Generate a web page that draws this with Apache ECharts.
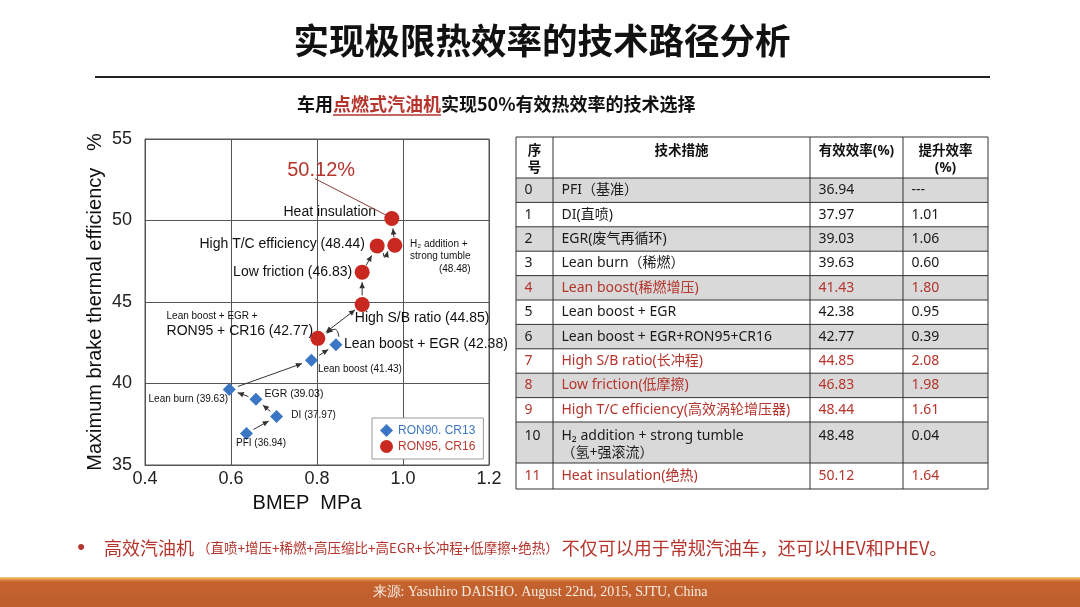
<!DOCTYPE html>
<html><head><meta charset="utf-8">
<script src="https://cdn.jsdelivr.net/npm/echarts/dist/echarts.min.js"></script>
<style>html,body{margin:0;padding:0;background:#fff}#c{width:1080px;height:607px}</style>
</head><body><div id="c"></div>
<script>
// ---------------- data ----------------
const pageTitle = '实现极限热效率的技术路径分析';
const subtitleParts = ['车用', '点燃式汽油机', '实现50%有效热效率的技术选择'];
const xTicks = [0.4, 0.6, 0.8, 1.0, 1.2];
const yTicks = [35, 40, 45, 50, 55];
const xAxisName = 'BMEP  MPa';
const yAxisName = 'Maximum brake thermal efficiency   %';
const seriesNames = ['RON90. CR13', 'RON95, CR16'];
const ron90X = [0.636, 0.706, 0.658, 0.596, 0.787, 0.844];
const ron90Y = [36.94, 37.97, 39.03, 39.63, 41.43, 42.38];
const ron90Labels = ['PFI (36.94)', 'DI (37.97)', 'EGR (39.03)', 'Lean burn (39.63)', 'Lean boost (41.43)', 'Lean boost + EGR (42.38)'];
const ron95X = [0.802, 0.905, 0.905, 0.940, 0.981, 0.974];
const ron95Y = [42.77, 44.85, 46.83, 48.44, 48.48, 50.12];
const ron95Labels = ['Lean boost + EGR +\nRON95 + CR16 (42.77)', 'High S/B ratio (44.85)', 'Low friction (46.83)', 'High T/C efficiency (48.44)', 'H₂ addition +\nstrong tumble\n(48.48)', 'Heat insulation'];
const peakLabel = '50.12%';

const tableHead = ['序\n号', '技术措施', '有效效率(%)', '提升效率\n(%)'];
const tableNo = ['0', '1', '2', '3', '4', '5', '6', '7', '8', '9', '10', '11'];
const tableTech = ['PFI（基准）', 'DI(直喷)', 'EGR(废气再循环)', 'Lean burn（稀燃）', 'Lean boost(稀燃增压)', 'Lean boost + EGR', 'Lean boost + EGR+RON95+CR16', 'High S/B ratio(长冲程)', 'Low friction(低摩擦)', 'High T/C efficiency(高效涡轮增压器)', 'H₂ addition + strong tumble\n（氢+强滚流）', 'Heat insulation(绝热)'];
const tableEff = ['36.94', '37.97', '39.03', '39.63', '41.43', '42.38', '42.77', '44.85', '46.83', '48.44', '48.48', '50.12'];
const tableGain = ['---', '1.01', '1.06', '0.60', '1.80', '0.95', '0.39', '2.08', '1.98', '1.61', '0.04', '1.64'];
const tableRedRows = [4, 7, 8, 9, 11];

const bulletParts = ['高效汽油机', '（直喷+增压+稀燃+高压缩比+高EGR+长冲程+低摩擦+绝热）', '不仅可以用于常规汽油车，还可以HEV和PHEV。'];
const sourceText = '来源: Yasuhiro DAISHO. August 22nd, 2015, SJTU, China';

// ---------------- style / layout ----------------
const RED = '#b5342c';
const BLUE_PT = '#3a76c4';
const RED_PT = '#c8281f';
const LAT = '"Liberation Sans", Arial, sans-serif';
const CJK = '"Noto Sans CJK SC", sans-serif';
const TBL = '"Noto Sans", "Noto Sans CJK SC", sans-serif';

const ron90Layout = [
  { offset: [14.5, 10], fontSize: 10 },
  { offset: [37, -1], fontSize: 10 },
  { offset: [38, -5], fontSize: 10.5 },
  { offset: [-41, 9.5], fontSize: 10 },
  { offset: [48.5, 9], fontSize: 10 },
  { offset: [90, -1], fontSize: 14 }
];
const ron95Layout = [
  { offset: [-78, -14], rich: ['s', 'b'] },
  { offset: [60, 14], fontSize: 14 },
  { offset: [-69.5, 0], fontSize: 14 },
  { offset: [-95, -2], fontSize: 14 },
  { offset: [45.5, 11], rich: ['t', 't', 'tr'] },
  { offset: [-62, -6], fontSize: 14 }
];
const richStyles = {
  s: { fontSize: 10, fontFamily: LAT, color: '#111', align: 'left', lineHeight: 14 },
  b: { fontSize: 14, fontFamily: LAT, color: '#111', align: 'left', lineHeight: 17 },
  t: { fontSize: 10, fontFamily: LAT, color: '#111', align: 'left', lineHeight: 12.5 },
  tr: { fontSize: 10, fontFamily: LAT, color: '#111', align: 'right', lineHeight: 12.5 }
};

function makeLabel(text, lay) {
  const l = { show: true, position: 'inside', offset: lay.offset, color: '#111', fontFamily: LAT };
  if (lay.rich) {
    const lines = text.split('\n');
    l.formatter = lines.map((ln, i) => '{' + lay.rich[i] + '|' + ln + '}').join('\n');
    l.rich = richStyles;
  } else {
    l.formatter = text;
    l.fontSize = lay.fontSize;
  }
  return l;
}

const chart = echarts.init(document.getElementById('c'), null, { renderer: 'canvas' });
const axisColor = '#555';
chart.setOption({
  animation: false,
  backgroundColor: '#fff',
  grid: { left: 145, right: 591, top: 139, bottom: 142, show: true, borderColor: axisColor, borderWidth: 1, backgroundColor: 'transparent' },
  xAxis: {
    type: 'value', min: xTicks[0], max: xTicks[xTicks.length - 1], interval: 0.2,
    axisLine: { show: true, lineStyle: { color: axisColor } },
    axisTick: { show: false },
    splitLine: { show: true, lineStyle: { color: axisColor, width: 1 } },
    axisLabel: { fontSize: 18, color: '#222', fontFamily: LAT, margin: 5, formatter: v => v.toFixed(1) },
    name: xAxisName, nameLocation: 'middle', nameGap: 28,
    nameTextStyle: { fontSize: 20, color: '#111', fontFamily: LAT, padding: [0, 20, 0, 0] }
  },
  yAxis: {
    type: 'value', min: yTicks[0], max: yTicks[yTicks.length - 1], interval: 5,
    axisLine: { show: true, lineStyle: { color: axisColor } },
    axisTick: { show: false },
    splitLine: { show: true, lineStyle: { color: axisColor, width: 1 } },
    axisLabel: { fontSize: 18, color: '#222', fontFamily: LAT, margin: 13 },
    name: yAxisName, nameLocation: 'middle', nameGap: 40,
    nameTextStyle: { fontSize: 20, color: '#111', fontFamily: LAT, padding: [0, 0, 0, 0] }
  },
  legend: {
    orient: 'vertical', left: 372, top: 418, itemGap: 3, padding: [6, 8, 6, 8],
    borderColor: '#999', borderWidth: 1, backgroundColor: '#fff',
    itemWidth: 13, itemHeight: 13,
    textStyle: { fontSize: 12, fontFamily: LAT },
    data: [
      { name: seriesNames[0], textStyle: { color: '#3c78bf' } },
      { name: seriesNames[1], textStyle: { color: '#b83a30' } }
    ]
  },
  series: [
    {
      name: seriesNames[0], type: 'scatter', symbol: 'diamond', symbolSize: 13, z: 3,
      itemStyle: { color: BLUE_PT, opacity: 1 },
      emphasis: { disabled: true },
      data: ron90X.map((x, i) => ({ value: [x, ron90Y[i]], label: makeLabel(ron90Labels[i], ron90Layout[i]) }))
    },
    {
      name: seriesNames[1], type: 'scatter', symbol: 'circle', symbolSize: 15, z: 3,
      itemStyle: { color: RED_PT, opacity: 1 },
      emphasis: { disabled: true },
      data: ron95X.map((x, i) => ({ value: [x, ron95Y[i]], label: makeLabel(ron95Labels[i], ron95Layout[i]) }))
    }
  ]
});

// ---------------- graphics (arrows, texts, table) ----------------
const px = (x, y) => chart.convertToPixel({ gridIndex: 0 }, [x, y]);
const B = ron90X.map((x, i) => px(x, ron90Y[i]));
const R = ron95X.map((x, i) => px(x, ron95Y[i]));
const G = [];
const AC = '#333';

function head(tip, dx, dy) {
  const L = Math.hypot(dx, dy); const ux = dx / L, uy = dy / L;
  const len = 6, hw = 2.8;
  const bx = tip[0] - ux * len, by = tip[1] - uy * len;
  G.push({ type: 'polygon', z: 5, shape: { points: [tip, [bx - uy * hw, by + ux * hw], [bx + uy * hw, by - ux * hw]] }, style: { fill: AC } });
}
function straight(p, q, s1, s2, both) {
  const dx = q[0] - p[0], dy = q[1] - p[1], L = Math.hypot(dx, dy);
  const ux = dx / L, uy = dy / L;
  const a = [p[0] + ux * s1, p[1] + uy * s1], b = [q[0] - ux * s2, q[1] - uy * s2];
  G.push({ type: 'line', z: 5, shape: { x1: a[0], y1: a[1], x2: b[0], y2: b[1] }, style: { stroke: AC, lineWidth: 1 } });
  head(b, ux, uy);
  if (both) head(a, -ux, -uy);
}
function curve(a, b, cp) {
  G.push({ type: 'bezierCurve', z: 5, shape: { x1: a[0], y1: a[1], x2: b[0], y2: b[1], cpx1: cp[0], cpy1: cp[1] }, style: { stroke: AC, lineWidth: 1, fill: null } });
  head(b, b[0] - cp[0], b[1] - cp[1]);
}
straight(B[0], B[1], 8, 9);
straight(B[1], B[2], 8, 9);
straight(B[2], B[3], 8, 9);
straight(B[3], B[4], 9, 10);
straight(B[4], B[5], 9, 9);
{
  const a = [B[5][0] + 3, B[5][1] - 8], b = [R[0][0] + 9, R[0][1] - 5];
  curve(a, b, [(a[0] + b[0]) / 2 + 5, Math.min(a[1], b[1]) - 10]);
}
straight(R[0], R[1], 10, 9, true);
straight(R[1], R[2], 9, 10);
straight(R[2], R[3], 8, 11);
{
  const a = [R[3][0] + 6, R[3][1] + 7], b = [R[4][0] - 7, R[4][1] + 6];
  curve(a, b, [(a[0] + b[0]) / 2 - 1, a[1] + 10]);
}
straight(R[4], R[5], 8, 10);
// leader to peak
G.push({ type: 'line', z: 5, shape: { x1: R[5][0] - 77, y1: R[5][1] - 40, x2: R[5][0] - 5, y2: R[5][1] - 3 }, style: { stroke: '#8c3b3b', lineWidth: 1 } });
G.push({ type: 'text', z: 6, style: { text: peakLabel, x: R[5][0] - 70.7, y: R[5][1] - 48, align: 'center', verticalAlign: 'middle', fontSize: 20, fontFamily: LAT, fill: RED } });

// title + rule
G.push({ type: 'text', style: { text: pageTitle, x: 542, y: 41, align: 'center', verticalAlign: 'middle', fontSize: 35.5, fontWeight: 'bold', fontFamily: CJK, fill: '#111' } });
G.push({ type: 'line', shape: { x1: 95, y1: 77, x2: 990, y2: 77 }, style: { stroke: '#222', lineWidth: 2 } });
// subtitle
G.push({ type: 'text', style: {
  text: '{a|' + subtitleParts[0] + '}{r|' + subtitleParts[1] + '}{a|' + subtitleParts[2] + '}',
  x: 297, y: 104, align: 'left', verticalAlign: 'middle',
  rich: { a: { fontSize: 18, fontWeight: 'bold', fontFamily: CJK, fill: '#111' }, r: { fontSize: 18, fontWeight: 'bold', fontFamily: CJK, fill: RED } }
} });
G.push({ type: 'line', shape: { x1: 333, y1: 115, x2: 441, y2: 115 }, style: { stroke: RED, lineWidth: 1.5 } });

// table
const colX = [516, 553, 810, 903, 988];
const rowY = [137, 178];
for (let i = 0; i < tableNo.length; i++) rowY.push(rowY[rowY.length - 1] + (i === 10 ? 41 : (i === 11 ? 26 : 24.4)));
for (let i = 0; i < tableNo.length; i++) {
  if (i % 2 === 0) G.push({ type: 'rect', shape: { x: colX[0], y: rowY[i + 1], width: colX[4] - colX[0], height: rowY[i + 2] - rowY[i + 1] }, style: { fill: '#d9d9d9' } });
}
rowY.forEach(y => G.push({ type: 'line', shape: { x1: colX[0], y1: y, x2: colX[4], y2: y }, style: { stroke: '#333', lineWidth: 1 } }));
colX.forEach(x => G.push({ type: 'line', shape: { x1: x, y1: rowY[0], x2: x, y2: rowY[rowY.length - 1] }, style: { stroke: '#333', lineWidth: 1 } }));
tableHead.forEach((h, j) => {
  G.push({ type: 'text', style: { text: h, x: (colX[j] + colX[j + 1]) / 2, y: 143, align: 'center', verticalAlign: 'top', fontSize: 13.5, fontWeight: 'bold', fontFamily: TBL, fill: '#111', lineHeight: 16.5 } });
});
for (let i = 0; i < tableNo.length; i++) {
  const red = tableRedRows.includes(i);
  const fill = red ? RED : '#1a1a1a';
  const cells = [tableNo[i], tableTech[i], tableEff[i], tableGain[i]];
  const yTop = rowY[i + 1], yBot = rowY[i + 2];
  cells.forEach((t, j) => {
    const tall = i === 10;
    const nLines = t.split('\n').length;
    const y = tall ? yTop + 14 + (nLines - 1) * 8.5 : (yTop + yBot) / 2;
    G.push({ type: 'text', style: {
      text: t, x: colX[j] + 8.5, y,
      align: 'left', verticalAlign: 'middle', fontSize: 14, fontFamily: TBL, fill, lineHeight: 17
    } });
  });
}

// bullet line
G.push({ type: 'text', style: { text: '•', x: 81, y: 548, align: 'center', verticalAlign: 'middle', fontSize: 22, fontFamily: LAT, fill: RED } });
G.push({ type: 'text', style: {
  text: '{b|' + bulletParts[0] + '}{s| ' + bulletParts[1] + ' }{b|' + bulletParts[2] + '}',
  x: 104, y: 548, align: 'left', verticalAlign: 'middle',
  rich: { b: { fontSize: 18, fontFamily: CJK, fill: RED }, s: { fontSize: 13.5, fontFamily: CJK, fill: RED } }
} });

// footer
G.push({ type: 'rect', shape: { x: 0, y: 577, width: 1080, height: 30 }, style: {
  fill: new echarts.graphic.LinearGradient(0, 0, 0, 1, [
    { offset: 0, color: '#f6cf8c' }, { offset: 0.07, color: '#e79a48' }, { offset: 0.16, color: '#c5632f' }, { offset: 1, color: '#be5d2e' }
  ]) } });
G.push({ type: 'text', style: { text: sourceText, x: 540, y: 592, align: 'center', verticalAlign: 'middle', fontSize: 14, fontFamily: '"Liberation Serif", serif', fill: '#f6ece0' } });

chart.setOption({ graphic: G });
</script>
</body></html>
